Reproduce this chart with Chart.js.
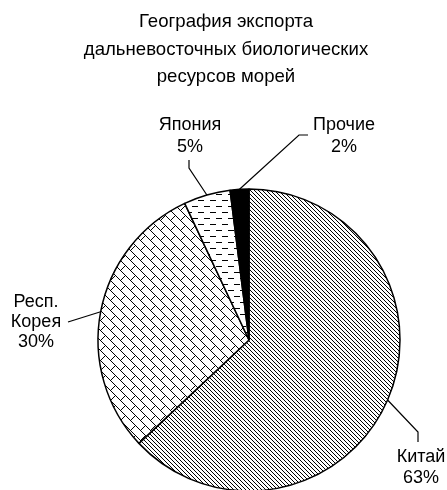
<!DOCTYPE html>
<html>
<head>
<meta charset="utf-8">
<script src="https://cdn.jsdelivr.net/npm/chart.js@4/dist/chart.umd.min.js"></script>
<style>
  html, body { margin: 0; padding: 0; background: #fff; }
  #wrap { width: 447px; height: 490px; overflow: hidden; position: relative; }
  canvas { display: block; }
</style>
</head>
<body>
<div id="wrap"><canvas id="c" width="447" height="500" style="width:447px;height:500px"></canvas></div>
<script>
// ---- data ----
const categories = ['Китай', 'Респ. Корея', 'Япония', 'Прочие'];
const shares = [63, 30, 5, 2];
const labelLines = [['Китай'], ['Респ.', 'Корея'], ['Япония'], ['Прочие']];
const titleLines = ['География экспорта', 'дальневосточных биологических', 'ресурсов морей'];

// ---- layout of labels (text positions & leader knees) ----
const labelLayout = [
  { knee: [[418, 432], [418, 442]], cx: 421, base: 462, lh: 21 },
  { knee: [[68, 322]], cx: 36, base: 307, lh: 20 },
  { knee: [[189, 168], [189, 160]], cx: 190, base: 130, lh: 22 },
  { knee: [[299, 135], [308, 135]], cx: 344, base: 130, lh: 22 }
];
const TITLE_FONT = '18.6px "Liberation Sans", Arial, sans-serif';
const FONT = '18px "Liberation Sans", Arial, sans-serif';

// ---- patterns ----
function makePattern(w, h, draw) {
  const t = document.createElement('canvas');
  t.width = w; t.height = h;
  const g = t.getContext('2d');
  g.fillStyle = '#fff'; g.fillRect(0, 0, w, h);
  g.fillStyle = '#000';
  draw(g);
  return document.getElementById('c').getContext('2d').createPattern(t, 'repeat');
}
const patChina = makePattern(4, 4, g => { for (let i = 0; i < 4; i++) g.fillRect(i, i, 1, 1); });
const patKorea = makePattern(10, 10, g => {
  for (let i = 0; i < 10; i++) g.fillRect(i, i, 1, 1);
  for (let k = 1; k < 5; k++) g.fillRect(k, 10 - k, 1, 1);
});
const patJapan = makePattern(12, 12, g => { g.fillRect(0, 2, 6, 1); g.fillRect(6, 8, 6, 1); });
const fills = [patChina, patKorea, patJapan, '#000'];

// ---- plugins ----
const titlePlugin = {
  id: 'ttl',
  afterDraw(chart) {
    const ctx = chart.ctx;
    ctx.save();
    ctx.fillStyle = '#000';
    ctx.font = TITLE_FONT;
    ctx.textAlign = 'center';
    ctx.textBaseline = 'alphabetic';
    titleLines.forEach((t, i) => ctx.fillText(t, 226, 27 + i * 27.5));
    ctx.restore();
  }
};
const labelPlugin = {
  id: 'lbls',
  afterDatasetsDraw(chart) {
    const ctx = chart.ctx;
    const meta = chart.getDatasetMeta(0);
    ctx.save();
    ctx.strokeStyle = '#000';
    ctx.lineWidth = 1.2;
    ctx.fillStyle = '#000';
    ctx.font = FONT;
    ctx.textAlign = 'center';
    meta.data.forEach((arc, i) => {
      const p = arc.getProps(['x', 'y', 'startAngle', 'endAngle', 'outerRadius'], true);
      const mid = (p.startAngle + p.endAngle) / 2;
      const ex = p.x + Math.cos(mid) * p.outerRadius;
      const ey = p.y + Math.sin(mid) * p.outerRadius;
      const L = labelLayout[i];
      ctx.beginPath();
      ctx.moveTo(ex, ey);
      L.knee.forEach(k => ctx.lineTo(k[0], k[1]));
      ctx.stroke();
      const lines = labelLines[i].concat([shares[i] + '%']);
      lines.forEach((t, j) => ctx.fillText(t, L.cx, L.base + j * L.lh));
    });
    ctx.restore();
  }
};

new Chart(document.getElementById('c'), {
  type: 'pie',
  data: {
    labels: categories,
    datasets: [{
      data: shares,
      backgroundColor: fills,
      borderColor: '#000',
      borderWidth: 1.5,
      radius: 151
    }]
  },
  options: {
    responsive: false,
    animation: false,
    layout: { padding: { top: 180, bottom: 0, left: 98, right: 47 } },
    plugins: { legend: { display: false }, tooltip: { enabled: false }, title: { display: false } }
  },
  plugins: [titlePlugin, labelPlugin]
});
</script>
</body>
</html>
